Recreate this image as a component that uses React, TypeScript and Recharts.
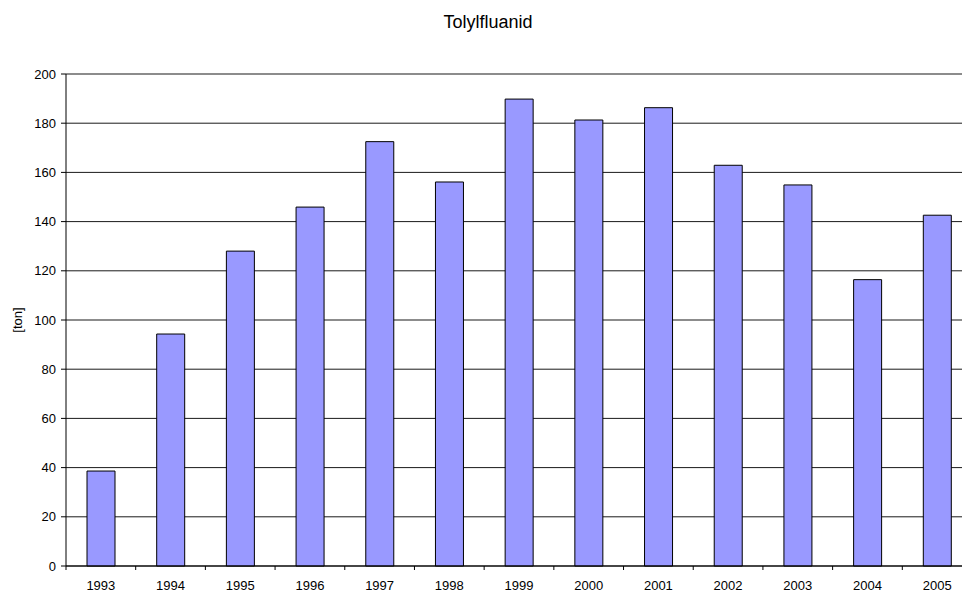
import { BarChart, Bar, XAxis, YAxis, CartesianGrid, Label } from 'recharts';

const years = ['1993', '1994', '1995', '1996', '1997', '1998', '1999', '2000', '2001', '2002', '2003', '2004', '2005'];
const tons = [38.6, 94.3, 128.0, 145.9, 172.5, 156.1, 189.8, 181.3, 186.3, 162.9, 154.9, 116.4, 142.6];
const yTicks = [0, 20, 40, 60, 80, 100, 120, 140, 160, 180, 200];

const data = years.map((year, i) => ({ year, ton: tons[i] }));

const FONT = '"Liberation Sans", Arial, sans-serif';
const CHART_W = 980;
const CHART_H = 592;
const MARGIN = { top: 74, right: 8, bottom: 0, left: 0 };
const Y_AXIS_W = 66;
const X_AXIS_H = 26;
const AXIS_Y = CHART_H - MARGIN.bottom - X_AXIS_H;
const BAND = (CHART_W - MARGIN.left - MARGIN.right - Y_AXIS_W) / years.length;

// category ticks sit on the band boundaries, labels in the middle
function YearTick(props: { x?: number; payload?: { value: string } }) {
  const x = props.x ?? 0;
  return (
    <g>
      <line x1={x - BAND / 2} x2={x - BAND / 2} y1={AXIS_Y} y2={AXIS_Y + 4} stroke="#000" />
      <text x={x} y={AXIS_Y + 24} textAnchor="middle" fontSize={13} fontFamily={FONT} fill="#000">
        {props.payload?.value}
      </text>
    </g>
  );
}

function TonLabel(props: { viewBox?: { y?: number; height?: number } }) {
  const vb = props.viewBox ?? {};
  const cy = (vb.y ?? 0) + (vb.height ?? 0) / 2;
  return (
    <text transform={`translate(22, ${cy}) rotate(-90)`} textAnchor="middle" fontSize={13} fontFamily={FONT} fill="#000">
      [ton]
    </text>
  );
}

export default function App() {
  return (
    <div style={{ position: 'absolute', left: 0, top: 0, width: 962, height: 592, overflow: 'hidden', background: '#fff', fontFamily: FONT }}>
      <div style={{ position: 'absolute', left: 0, top: 0, width: 962, textAlign: 'center' }}>
        <svg width={962} height={40} style={{ display: 'block' }}>
          <text x={488} y={28} textAnchor="middle" fontSize={18} fontFamily={FONT} fill="#000">Tolylfluanid</text>
        </svg>
      </div>
      <BarChart width={CHART_W} height={CHART_H} data={data} margin={MARGIN} barSize={28}>
        <CartesianGrid vertical={false} stroke="#000" strokeOpacity={0.9} />
        <XAxis
          dataKey="year"
          height={X_AXIS_H}
          stroke="#000"
          tickLine={false}
          tick={<YearTick />}
          interval={0}
        />
        <YAxis
          width={Y_AXIS_W}
          domain={[0, 200]}
          ticks={yTicks}
          interval={0}
          stroke="#000"
          tickSize={5}
          tickMargin={5}
          tick={{ fontSize: 13, fill: '#000', fontFamily: FONT }}
        >
          <Label content={<TonLabel />} />
        </YAxis>
        <Bar dataKey="ton" fill="#9999FF" stroke="#000" strokeWidth={1} isAnimationActive={false} />
      </BarChart>
    </div>
  );
}
